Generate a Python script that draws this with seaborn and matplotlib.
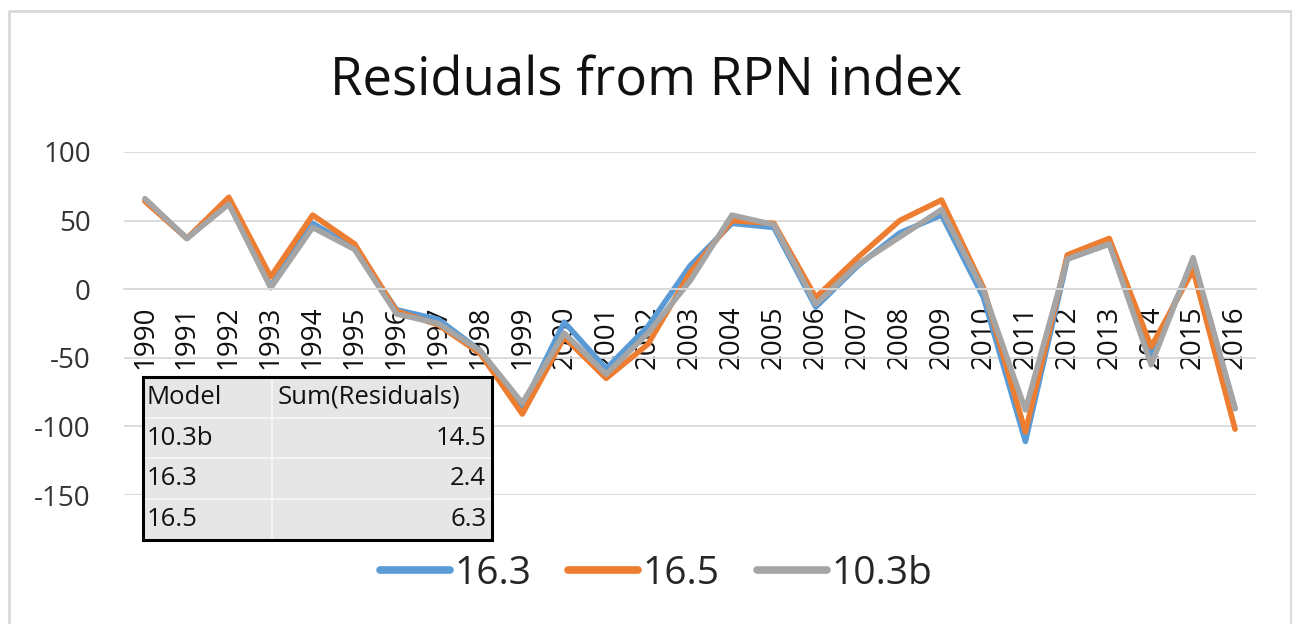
import numpy as np
import pandas as pd
import seaborn as sns
import matplotlib.pyplot as plt
from matplotlib.patches import Rectangle

years = list(range(1990, 2017))
res_163 = [65, 37, 63, 2, 48, 30, -15, -22, -45, -86, -24, -58, -27, 17, 48, 45, -13, 17, 41, 54, -6, -111, 22, 33, -48, 20, -87]
res_165 = [64, 37, 67, 9, 54, 33, -16, -26, -47, -91, -35, -65, -40, 12, 50, 48, -6, 23, 50, 65, 1, -104, 25, 37, -42, 14, -102]
res_103b = [66, 37, 62, 1, 45, 29, -18, -25, -45, -83, -32, -62, -32, 6, 54, 47, -11, 18, 38, 58, -1, -88, 22, 33, -55, 23, -87]

models = ['16.3', '16.5', '10.3b']
colors = ['#5B9BD5', '#ED7D31', '#A5A5A5']

table_models = ['10.3b', '16.3', '16.5']
table_sums = [14.5, 2.4, 6.3]

df = pd.DataFrame({
    'Year': years * 3,
    'Residual': res_163 + res_165 + res_103b,
    'Model': ['16.3'] * 27 + ['16.5'] * 27 + ['10.3b'] * 27,
})

sns.set_style('white')
plt.rcParams['font.family'] = ['Open Sans', 'DejaVu Sans']
plt.rcParams['axes.unicode_minus'] = False

fig = plt.figure(figsize=(12.92, 6.24), dpi=100)
ax = fig.add_axes([124 / 1292, 1 - 495 / 624, 1132 / 1292, 343 / 624])

sns.lineplot(data=df, x='Year', y='Residual', hue='Model', hue_order=models,
             palette=dict(zip(models, colors)), linewidth=4, ax=ax, legend=False)

# x axis sits on the zero line (spine move resets ticks, so do it first)
for s in ['top', 'right', 'left']:
    ax.spines[s].set_visible(False)
ax.spines['bottom'].set_position(('data', 0))
ax.spines['bottom'].set_color('#d9d9d9')
ax.spines['bottom'].set_linewidth(1.3)

ax.set_xlim(1989.5, 2016.5)
ax.set_ylim(-150, 100)
ax.set_yticks([100, 50, 0, -50, -100, -150])
ax.set_xticks(years)
ax.set_xticklabels([str(y) for y in years])
ax.set_xlabel('')
ax.set_ylabel('')
ax.yaxis.grid(True, color='#d9d9d9', linewidth=1.3)
ax.set_axisbelow(True)
ax.tick_params(axis='x', length=0, pad=12, labelsize=20, labelcolor='#111111', labelrotation=90)
ax.tick_params(axis='y', length=0, pad=24, labelsize=20, labelcolor='#333333')

fig.text(0.5, 1 - 95 / 624, 'Residuals from RPN index', ha='center', va='baseline',
         fontsize=38, color='#111111')

# legend
handles = [plt.Line2D([], [], color=c, linewidth=5.5, solid_capstyle='round') for c in colors]
fig.legend(handles, models, loc='center', bbox_to_anchor=(656 / 1292, 1 - 574 / 624),
           ncol=3, frameon=False, fontsize=28, handlelength=1.8, handletextpad=0.12,
           columnspacing=0.95)

# summary table
bbox = [0.0168, -0.131, 0.308, 0.475]
cells = [[m, f'{v:.1f}'] for m, v in zip(table_models, table_sums)]
tbl = ax.table(cellText=cells, colLabels=['Model', 'Sum(Residuals)'], bbox=bbox,
               colWidths=[0.37, 0.63], cellLoc='left', colLoc='left')
tbl.auto_set_font_size(False)
for (r, c), cell in tbl.get_celld().items():
    cell.set_facecolor('#e7e6e6')
    cell.set_edgecolor('#f4f4f4')
    cell.set_linewidth(1.5)
    cell.PAD = 0.025
    cell.get_text().set_fontsize(18.5)
    cell.get_text().set_color('#111111')
    if r > 0 and c == 1:
        cell._loc = 'right'
        cell.get_text().set_ha('right')
tbl.set_clip_on(False)
tbl.set_zorder(5)
ax.add_patch(Rectangle((bbox[0], bbox[1]), bbox[2], bbox[3], transform=ax.transAxes,
                       fill=False, edgecolor='black', linewidth=2.2, clip_on=False, zorder=6))

# chart border
fig.patches.append(Rectangle((9 / 1292, -0.05), (1291 - 9) / 1292, 1.05 - 11 / 624,
                             transform=fig.transFigure, fill=False, edgecolor='#d9d9d9',
                             linewidth=2))

fig.savefig('out.png', dpi=100)
